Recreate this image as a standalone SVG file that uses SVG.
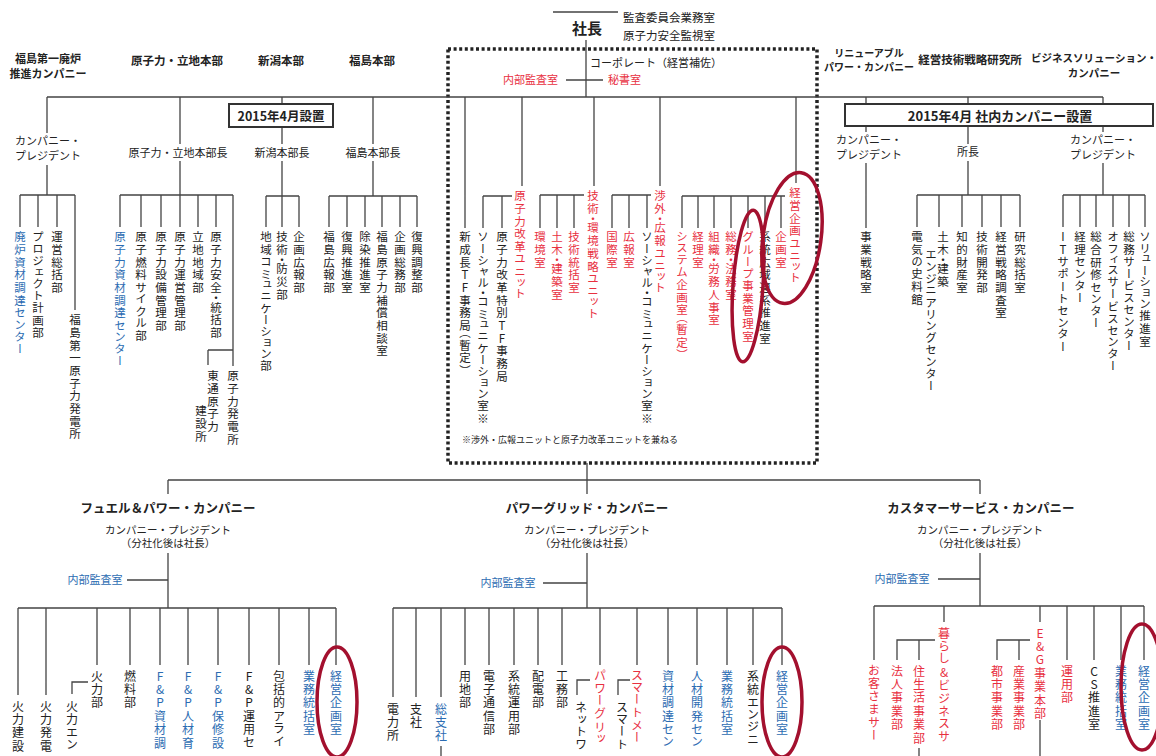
<svg xmlns="http://www.w3.org/2000/svg" width="1156" height="756" viewBox="0 0 1156 756">
<style>
text{font-family:"Noto Sans CJK JP","Noto Sans",sans-serif;fill:#222}
.h{font-size:11.5px;font-weight:bold;text-anchor:middle}
.m{font-size:11px;text-anchor:middle}
.co{font-size:12.5px;font-weight:bold;text-anchor:middle}
.s{font-size:10.5px;text-anchor:middle}
.v{writing-mode:vertical-rl;text-orientation:upright;font-size:11.5px;letter-spacing:1.2px;font-feature-settings:"vpal" 1}
.vb{writing-mode:vertical-rl;text-orientation:upright;font-size:12px;letter-spacing:1.4px;font-feature-settings:"vpal" 1}
.r{fill:#e8303f}
.b{fill:#2c6cb2}
#connectors path{stroke:#444;stroke-width:1.3;fill:none}
.box{fill:#fff;stroke:#333;stroke-width:2}
.ell{fill:none;stroke:#a3102e;stroke-width:3.5}
.dot{fill:none;stroke:#222;stroke-width:3.5;stroke-dasharray:3 2.6}
</style>
<rect width="1156" height="756" fill="#fff"/>
<rect class="dot" x="448" y="49" width="369" height="414"/>
<g id="connectors">
<path d="M553 12H618M586 40V97M566 80H603M47 97H1103"/>
<path d="M47 97V133M47 165V195M180 97V144M180 161V195M282 97V144M282 161V196M373 97V144M373 161V196"/>
<path d="M20 195H75M20 195V227M38 195V227M57 195V227M75 195V310"/>
<path d="M120 195H233M120 195V227M141 195V227M161 195V227M180 195V227M198 195V227M216 195V227M233 195V366M208 350H233M208 350V365"/>
<path d="M266 196H299M266 196V227M282 196V227M299 196V227"/>
<path d="M329 196H417M329 196V227M347 196V227M365 196V227M382 196V227M400 196V227M417 196V227"/>
<path d="M465 97V228M522 97V186M483 196H512M483 196V228M502 196V228"/>
<path d="M594 97V186M540 195H584M540 195V228M557 195V228M574 195V228"/>
<path d="M660 97V186M612 195H651M612 195V228M629 195V228M647 195V228"/>
<path d="M796 97V183M682 196H785M682 196V228M698 196V228M714 196V228M731 196V228M748 196V228M765 196V228M781 196V228"/>
<path d="M866 97V132M866 163V228M968 97V144M968 161V195M917 195H1020M917 195V227M939 195V227M962 195V227M982 195V227M1001 195V227M1020 195V227"/>
<path d="M1103 97V132M1103 163V195M1063 195H1145M1063 195V227M1080 195V227M1096 195V227M1113 195V227M1129 195V227M1145 195V227"/>
<path d="M587 463V480M168 480H980M168 480V494M587 480V494M980 480V494"/>
<path d="M168 553V608M127 580H168M18 608H336M18 608V695M46 608V695M97 608V665M130 608V665M160 608V665M188 608V665M218 608V665M249 608V665M279 608V665M309 608V665M336 608V665M88 682H72V694"/>
<path d="M587 553V608M543 583H587M393 608H782M393 608V697M416 608V697M441 608V697M441 746V756M465 608V665M489 608V665M514 608V665M538 608V665M562 608V665M600 608V665M637 608V665M668 608V665M697 608V665M727 608V665M753 608V665M782 608V665M590 680H577V695M630 680H618V695"/>
<path d="M980 553V606M938 579H980M874 606H1144M874 606V660M944 606V622M1040 606V622M1067 606V660M1094 606V660M1121 606V660M1144 606V660M935 640H897V660M919 640V660M1030 640H997V660M1019 640V660M919 748V756M1040 720V756"/>
</g>
<g id="n-shacho"><text x="587" y="34" text-anchor="middle" style="font-size:15px;font-weight:bold">社長</text></g>
<g id="n-kansa"><text x="623" y="22" style="font-size:11.5px">監査委員会業務室<tspan x="623" dy="18">原子力安全監視室</tspan></text></g>
<g id="n-corporate"><text x="590" y="67" style="font-size:11px">コーポレート（経営補佐）</text></g>
<g id="n-naibu-c"><text class="r" x="503" y="84" style="font-size:11px">内部監査室</text></g>
<g id="n-hisho"><text class="r" x="608" y="84" style="font-size:11px">秘書室</text></g>
<g id="n-fukushima1"><text class="h" x="48" y="63" style="font-size:11px">福島第一廃炉<tspan x="48" dy="14.5">推進カンパニー</tspan></text></g>
<g id="n-genshiryoku"><text class="h" x="177" y="65">原子力・立地本部</text></g>
<g id="n-niigata"><text class="h" x="281" y="65">新潟本部</text></g>
<g id="n-fukushima"><text class="h" x="372" y="65">福島本部</text></g>
<g id="n-renewable"><text class="h" x="869" y="57" style="font-size:10px">リニューアブル<tspan x="869" dy="13.5">パワー・カンパニー</tspan></text></g>
<g id="n-kenkyusho"><text class="h" x="970" y="64">経営技術戦略研究所</text></g>
<g id="n-bizsol"><text class="h" x="1094" y="62" style="font-size:10.5px">ビジネスソリューション・<tspan x="1094" dy="14.5">カンパニー</tspan></text></g>
<g id="n-f1-pres"><text class="m" x="48" y="145">カンパニー・<tspan x="48" dy="14.5">プレジデント</tspan></text></g>
<g id="n-gen-cho"><text class="m" x="178" y="157">原子力・立地本部長</text></g>
<g id="n-nii-cho"><text class="m" x="282" y="157">新潟本部長</text></g>
<g id="n-fuk-cho"><text class="m" x="373" y="157">福島本部長</text></g>
<g id="n-ren-pres"><text class="m" x="869" y="144">カンパニー・<tspan x="869" dy="14.5">プレジデント</tspan></text></g>
<g id="n-shocho"><text class="m" x="968" y="156">所長</text></g>
<g id="n-bs-pres"><text class="m" x="1103" y="144">カンパニー・<tspan x="1103" dy="14.5">プレジデント</tspan></text></g>
<g id="n-2015a"><rect class="box" x="229" y="104" width="104" height="23"/><text x="281" y="121" text-anchor="middle" style="font-size:12.5px;font-weight:bold">2015年4月設置</text></g>
<g id="n-2015b"><rect class="box" x="845" y="104" width="308" height="22"/><text x="1000" y="120.5" text-anchor="middle" style="font-size:13px;font-weight:bold">2015年4月 社内カンパニー設置</text></g>
<g id="n-top-left">
<text class="v b" x="20" y="231">廃炉資材調達センター</text>
<text class="v" x="38" y="231">プロジェクト計画部</text>
<text class="v" x="57" y="231">運営総括部</text>
<text class="v" x="75" y="314">福島第一原子力発電所</text>
<text class="v b" x="120" y="231">原子力資材調達センター</text>
<text class="v" x="141" y="231">原子燃料サイクル部</text>
<text class="v" x="161" y="231">原子力設備管理部</text>
<text class="v" x="180" y="231">原子力運営管理部</text>
<text class="v" x="198" y="231">立地地域部</text>
<text class="v" x="216" y="231">原子力安全・統括部</text>
<text class="v" x="233" y="370">原子力発電所</text>
<text class="v" x="213" y="370">東通原子力</text>
<text class="v" x="201" y="405">建設所</text>
<text class="v" x="266" y="231">地域コミュニケーション部</text>
<text class="v" x="282" y="231">技術・防災部</text>
<text class="v" x="299" y="231">企画広報部</text>
<text class="v" x="329" y="231">福島広報部</text>
<text class="v" x="347" y="231">復興推進室</text>
<text class="v" x="365" y="231">除染推進室</text>
<text class="v" x="382" y="231">福島原子力補償相談室</text>
<text class="v" x="400" y="231">企画総務部</text>
<text class="v" x="417" y="231">復興調整部</text>
</g>
<g id="n-corp-units">
<text class="v" x="465" y="231">新成長TF事務局（暫定）</text>
<text class="v r" x="520" y="190">原子力改革ユニット</text>
<text class="v" x="502" y="231">原子力改革特別TF事務局</text>
<text class="v" x="483" y="231">ソーシャル・コミュニケーション室※</text>
<text class="v r" x="593" y="190">技術・環境戦略ユニット</text>
<text class="v r" x="540" y="231">環境室</text>
<text class="v r" x="557" y="231">土木・建築室</text>
<text class="v r" x="574" y="231">技術統括室</text>
<text class="v r" x="660" y="190">渉外・広報ユニット</text>
<text class="v r" x="612" y="231">国際室</text>
<text class="v r" x="629" y="231">広報室</text>
<text class="v" x="647" y="231">ソーシャル・コミュニケーション室※</text>
<text class="v r" x="795" y="187">経営企画ユニット</text>
<text class="v r" x="682" y="231">システム企画室（暫定）</text>
<text class="v r" x="698" y="231">経理室</text>
<text class="v r" x="714" y="231">組織・労務人事室</text>
<text class="v r" x="731" y="231">総務・法務室</text>
<text class="v r" x="748" y="231">グループ事業管理室</text>
<text class="v" x="765" y="231">系統広域連系推進室</text>
<text class="v r" x="781" y="231">企画室</text>
<text x="462" y="443" style="font-size:9px">※渉外・広報ユニットと原子力改革ユニットを兼ねる</text>
</g>
<g id="n-top-right">
<text class="v" x="866" y="231">事業戦略室</text>
<text class="v" x="917" y="231">電気の史料館</text>
<text class="v" x="943" y="231">土木・建築</text>
<text class="v" x="931" y="250">エンジニアリングセンター</text>
<text class="v" x="962" y="231">知的財産室</text>
<text class="v" x="982" y="231">技術開発部</text>
<text class="v" x="1001" y="231">経営戦略調査室</text>
<text class="v" x="1020" y="231">研究総括室</text>
<text class="v" x="1063" y="231">ITサポートセンター</text>
<text class="v" x="1080" y="231">経理センター</text>
<text class="v" x="1096" y="231">総合研修センター</text>
<text class="v" x="1113" y="231">オフィスサービスセンター</text>
<text class="v" x="1129" y="231">総務サービスセンター</text>
<text class="v" x="1145" y="231">ソリューション推進室</text>
</g>
<g id="n-fp">
<text class="co" x="168" y="513">フュエル＆パワー・カンパニー</text>
<text class="s" x="168" y="534">カンパニー・プレジデント<tspan x="168" dy="13">（分社化後は社長）</tspan></text>
<text class="m b" x="95" y="584">内部監査室</text>
<text class="vb" x="18" y="700">火力建設</text>
<text class="vb" x="46" y="700">火力発電</text>
<text class="vb" x="72" y="700">火力エン</text>
<text class="vb" x="97" y="670">火力部</text>
<text class="vb" x="130" y="670">燃料部</text>
<text class="vb b" x="160" y="670">F&amp;P資材調</text>
<text class="vb b" x="188" y="670">F&amp;P人材育</text>
<text class="vb b" x="218" y="670">F&amp;P保修設</text>
<text class="vb" x="249" y="670">F&amp;P運用セ</text>
<text class="vb" x="279" y="670">包括的アライ</text>
<text class="vb b" x="309" y="670">業務統括室</text>
<text class="vb b" x="336" y="670">経営企画室</text>
</g>
<g id="n-pg">
<text class="co" x="587" y="513">パワーグリッド・カンパニー</text>
<text class="s" x="587" y="534">カンパニー・プレジデント<tspan x="587" dy="13">（分社化後は社長）</tspan></text>
<text class="m b" x="508" y="587">内部監査室</text>
<text class="vb" x="393" y="703">電力所</text>
<text class="vb" x="416" y="703">支社</text>
<text class="vb b" x="441" y="703">総支社</text>
<text class="vb" x="465" y="670">用地部</text>
<text class="vb" x="489" y="670">電子通信部</text>
<text class="vb" x="514" y="670">系統運用部</text>
<text class="vb" x="538" y="670">配電部</text>
<text class="vb" x="562" y="670">工務部</text>
<text class="vb r" x="600" y="670">パワーグリッ</text>
<text class="vb" x="581" y="702">ネットワ</text>
<text class="vb r" x="637" y="670">スマートメー</text>
<text class="vb" x="622" y="702">スマート</text>
<text class="vb b" x="668" y="670">資材調達セン</text>
<text class="vb b" x="697" y="670">人材開発セン</text>
<text class="vb b" x="727" y="670">業務統括室</text>
<text class="vb" x="753" y="670">系統エンジニ</text>
<text class="vb b" x="782" y="670">経営企画室</text>
</g>
<g id="n-cs">
<text class="co" x="981" y="513">カスタマーサービス・カンパニー</text>
<text class="s" x="980" y="534">カンパニー・プレジデント<tspan x="980" dy="13">（分社化後は社長）</tspan></text>
<text class="m b" x="902" y="583">内部監査室</text>
<text class="vb r" x="874" y="665">お客さまサー</text>
<text class="vb r" x="944" y="627">暮らし&amp;ビジネスサ</text>
<text class="vb r" x="897" y="665">法人事業部</text>
<text class="vb r" x="919" y="665">住生活事業部</text>
<text class="vb r" x="1040" y="627">E&amp;G事業本部</text>
<text class="vb r" x="997" y="665">都市事業部</text>
<text class="vb r" x="1019" y="665">産業事業部</text>
<text class="vb r" x="1067" y="665">運用部</text>
<text class="vb" x="1094" y="665">CS推進室</text>
<text class="vb b" x="1121" y="665">業務統括室</text>
<text class="vb b" x="1144" y="665">経営企画室</text>
</g>
<g id="highlights">
<ellipse class="ell" cx="792" cy="238" rx="29" ry="66" transform="rotate(8 792 238)"/>
<ellipse class="ell" cx="748" cy="286" rx="15" ry="76" transform="rotate(4 748 286)"/>
<ellipse class="ell" cx="337" cy="702" rx="20" ry="55"/>
<ellipse class="ell" cx="782" cy="702" rx="20" ry="55"/>
<ellipse class="ell" cx="1142" cy="687" rx="21" ry="63"/>
</g>
</svg>
